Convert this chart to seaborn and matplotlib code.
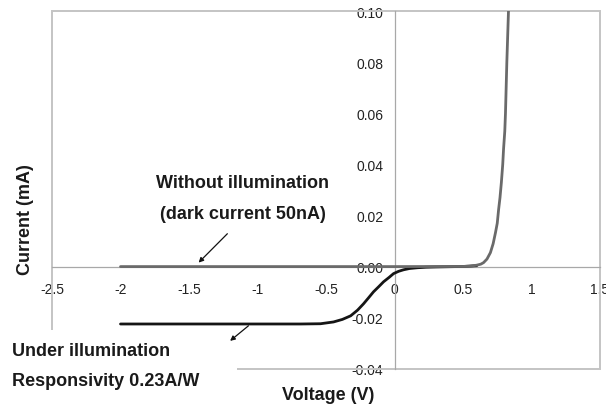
import numpy as np
import pandas as pd
import matplotlib
matplotlib.use('Agg')
import matplotlib.pyplot as plt
import matplotlib.patches as mpatches
import seaborn as sns

# I-V data (voltage in V, current in mA)
v_dark = [-2.0, -1.0, 0.0, 0.5, 0.55, 0.6, 0.63, 0.65, 0.675, 0.7, 0.72, 0.737,
          0.75, 0.76, 0.77, 0.78, 0.79, 0.796, 0.805, 0.81, 0.82, 0.832]
i_dark = [0.00005, 0.00005, 0.00005, 0.0001, 0.0002, 0.0006, 0.001, 0.0016, 0.003,
          0.0055, 0.009, 0.0133, 0.017, 0.0224, 0.027, 0.0329, 0.040, 0.046,
          0.053, 0.060, 0.080, 0.100]

v_light = [-2.0, -1.0, -0.686, -0.54, -0.445, -0.38, -0.32, -0.27, -0.226, -0.19,
           -0.153, -0.115, -0.08, -0.04, -0.007, 0.03, 0.066, 0.11, 0.168, 0.23,
           0.3, 0.4, 0.5, 0.6]
i_light = [-0.0224, -0.0224, -0.0224, -0.0223, -0.0216, -0.0206, -0.0192, -0.0170,
           -0.0145, -0.0122, -0.0098, -0.0078, -0.0059, -0.0042, -0.0027, -0.0018,
           -0.0012, -0.0007, -0.0004, -0.0002, -0.0001, 0.0, 0.0001, 0.0004]

x_ticks = [-2.5, -2, -1.5, -1, -0.5, 0, 0.5, 1, 1.5]
x_labels = ['-2.5', '-2', '-1.5', '-1', '-0.5', '0', '0.5', '1', '1.5']
y_ticks = [-0.04, -0.02, 0.0, 0.02, 0.04, 0.06, 0.08, 0.10]
y_labels = ['-0.04', '-0.02', '0.00', '0.02', '0.04', '0.06', '0.08', '0.10']

dark = pd.DataFrame({'V': v_dark, 'I': i_dark})
light = pd.DataFrame({'V': v_light, 'I': i_light})

sns.set_style('white')
plt.rcParams['font.family'] = ['Liberation Sans', 'DejaVu Sans']

W, H = 606, 406
fig = plt.figure(figsize=(W / 100, H / 100), dpi=100)
ax = fig.add_axes([52 / W, 1 - 370 / H, 548 / W, 358 / H])

sns.lineplot(data=light, x='V', y='I', ax=ax, color='#151515', lw=2.0,
             estimator=None, sort=False, zorder=4)
sns.lineplot(data=dark, x='V', y='I', ax=ax, color='#6a6a6a', lw=2.0,
             estimator=None, sort=False, zorder=5)

ax.set_xlim(-2.5, 1.5)
ax.set_ylim(-0.04, 0.10)

# axes cross at the origin, Excel style
for side in ['top', 'right']:
    ax.spines[side].set_visible(False)
ax.spines['left'].set_position(('data', 0))
ax.spines['bottom'].set_position(('data', 0))
for side in ['left', 'bottom']:
    ax.spines[side].set_color('#a8a8a8')
    ax.spines[side].set_linewidth(0.9)
    ax.spines[side].set_zorder(3)

ax.set_xticks(x_ticks)
ax.set_xticklabels(x_labels)
ax.set_yticks(y_ticks)
ax.set_yticklabels(y_labels)
ax.tick_params(axis='x', direction='inout', length=4, width=0.8, color='#a8a8a8',
               pad=9, labelsize=10, labelcolor='#222222')
ax.tick_params(axis='y', direction='out', length=3, width=0.8, color='#a8a8a8',
               pad=5, labelsize=10, labelcolor='#222222')
ax.set_xlabel('')
ax.set_ylabel('')

# plot-area border
ax.add_patch(mpatches.Rectangle((0, 0), 1, 1, transform=ax.transAxes, fill=False,
                                ec='#c4c4c4', lw=1.4, clip_on=False, zorder=2))
# white text box hiding the lower-left corner of the border
ax.add_patch(mpatches.Rectangle((0, 0), 237 / W, 1 - 331 / H, transform=fig.transFigure,
                                fc='white', ec='none', clip_on=False, zorder=2.6))

bold = dict(fontsize=13, fontweight='bold', color='#1a1a1a')
fig.text(243 / W, 1 - 183 / H, 'Without illumination', ha='center', va='center', **bold)
fig.text(243 / W, 1 - 215 / H, '(dark current 50nA)', ha='center', va='center', **bold)
fig.text(12 / W, 1 - 352 / H, 'Under illumination', ha='left', va='center', **bold)
fig.text(12 / W, 1 - 382 / H, 'Responsivity 0.23A/W', ha='left', va='center', **bold)
fig.text(328 / W, 1 - 396 / H, 'Voltage (V)', ha='center', va='center', **bold)
fig.text(25 / W, 1 - 220 / H, 'Current (mA)', ha='center', va='center',
         rotation=90, **bold)

arrow = dict(arrowstyle='-|>', color='#111111', lw=0.9, mutation_scale=7,
             shrinkA=0, shrinkB=0)
ax.annotate('', xy=(-1.43, 0.0016), xytext=(-1.22, 0.0129), arrowprops=arrow,
            zorder=6)
ax.annotate('', xy=(-1.20, -0.0290), xytext=(-1.066, -0.0231), arrowprops=arrow,
            zorder=6)

fig.savefig('out.png', dpi=100)
